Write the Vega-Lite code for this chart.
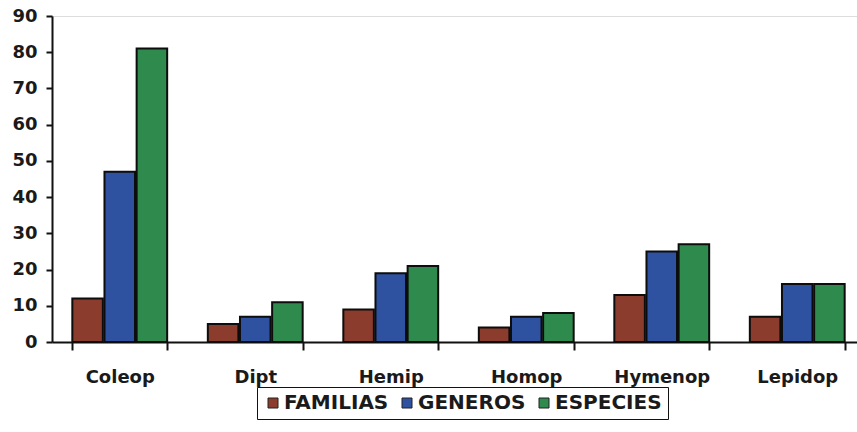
{
  "$schema": "https://vega.github.io/schema/vega-lite/v6.json",
  "autosize": "none",
  "width": 813,
  "height": 326,
  "padding": {"left": 52, "top": 16, "right": 0, "bottom": 90},
  "background": "white",
  "data": {
    "values": [
      {"orden": "Coleop", "serie": "FAMILIAS", "valor": 12},
      {"orden": "Coleop", "serie": "GENEROS", "valor": 47},
      {"orden": "Coleop", "serie": "ESPECIES", "valor": 81},
      {"orden": "Dipt", "serie": "FAMILIAS", "valor": 5},
      {"orden": "Dipt", "serie": "GENEROS", "valor": 7},
      {"orden": "Dipt", "serie": "ESPECIES", "valor": 11},
      {"orden": "Hemip", "serie": "FAMILIAS", "valor": 9},
      {"orden": "Hemip", "serie": "GENEROS", "valor": 19},
      {"orden": "Hemip", "serie": "ESPECIES", "valor": 21},
      {"orden": "Homop", "serie": "FAMILIAS", "valor": 4},
      {"orden": "Homop", "serie": "GENEROS", "valor": 7},
      {"orden": "Homop", "serie": "ESPECIES", "valor": 8},
      {"orden": "Hymenop", "serie": "FAMILIAS", "valor": 13},
      {"orden": "Hymenop", "serie": "GENEROS", "valor": 25},
      {"orden": "Hymenop", "serie": "ESPECIES", "valor": 27},
      {"orden": "Lepidop", "serie": "FAMILIAS", "valor": 7},
      {"orden": "Lepidop", "serie": "GENEROS", "valor": 16},
      {"orden": "Lepidop", "serie": "ESPECIES", "valor": 16}
    ]
  },
  "mark": {"type": "bar", "stroke": "#0d0d0d", "strokeWidth": 2},
  "encoding": {
    "x": {
      "field": "orden",
      "type": "nominal",
      "sort": null,
      "scale": {"paddingInner": 0.3, "paddingOuter": 0.15},
      "axis": {
        "title": null,
        "labelAngle": 0,
        "labelFont": "DejaVu Sans",
        "labelFontWeight": "bold",
        "labelFontSize": 18,
        "labelColor": "#1a1a1a",
        "labelPadding": 18,
        "tickBand": "extent",
        "tickSize": 8,
        "tickWidth": 2,
        "tickColor": "#111",
        "domainColor": "#111",
        "domainWidth": 2
      }
    },
    "xOffset": {
      "field": "serie",
      "type": "nominal",
      "sort": ["FAMILIAS", "GENEROS", "ESPECIES"],
      "scale": {"paddingInner": 0.05}
    },
    "y": {
      "field": "valor",
      "type": "quantitative",
      "scale": {"domain": [0, 90], "nice": false},
      "axis": {
        "title": null,
        "grid": false,
        "values": [0, 10, 20, 30, 40, 50, 60, 70, 80, 90],
        "labelFont": "DejaVu Sans",
        "labelFontWeight": "bold",
        "labelFontSize": 18,
        "labelColor": "#1a1a1a",
        "labelPadding": 9,
        "tickSize": 6,
        "tickWidth": 2,
        "tickColor": "#111",
        "domainColor": "#111",
        "domainWidth": 2
      }
    },
    "color": {
      "field": "serie",
      "type": "nominal",
      "sort": ["FAMILIAS", "GENEROS", "ESPECIES"],
      "scale": {
        "domain": ["FAMILIAS", "GENEROS", "ESPECIES"],
        "range": ["#8b3c2c", "#2e52a0", "#2f8a4e"]
      },
      "legend": {
        "title": null,
        "orient": "none",
        "legendX": 205,
        "legendY": 371,
        "direction": "horizontal",
        "columns": 3,
        "strokeColor": "#111",
        "fillColor": "white",
        "padding": 6,
        "symbolType": "square",
        "symbolSize": 100,
        "symbolStrokeColor": "#222",
        "symbolStrokeWidth": 1,
        "labelFont": "DejaVu Sans",
        "labelFontWeight": "bold",
        "labelFontSize": 20,
        "labelColor": "#1a1a1a",
        "labelOffset": 1,
        "columnPadding": 8,
        "labelLimit": 300
      }
    }
  }
}
